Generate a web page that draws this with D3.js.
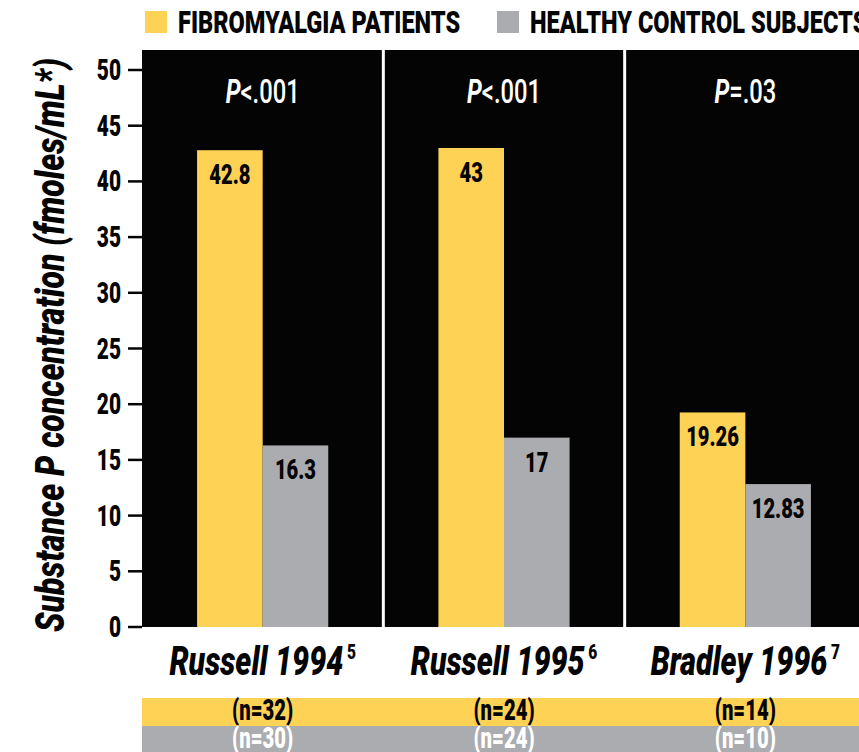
<!DOCTYPE html>
<html>
<head>
<meta charset="utf-8">
<script src="https://cdn.jsdelivr.net/npm/d3@7"></script>
<style>
  html, body { margin: 0; padding: 0; background: #fff; overflow: hidden; }
  svg { display: block; }
</style>
</head>
<body>
<svg id="chart"></svg>
<script>
// data
var studies = ['Russell 1994', 'Russell 1995', 'Bradley 1996'];
var refs = ['5', '6', '7'];
var pValues = [['<', '.001'], ['<', '.001'], ['=', '.03']];
var fibroValues = [42.8, 43, 19.26];
var controlValues = [16.3, 17, 12.83];
var fibroN = ['(n=32)', '(n=24)', '(n=14)'];
var controlN = ['(n=30)', '(n=24)', '(n=10)'];
var yTicks = [0, 5, 10, 15, 20, 25, 30, 35, 40, 45, 50];
var seriesKeys = ['fibro', 'control'];
var seriesLabels = ['FIBROMYALGIA PATIENTS', 'HEALTHY CONTROL SUBJECTS'];

var W = 859, H = 752;
var YELLOW = '#fed255', GRAY = '#abacb0', BLACK = '#040404';
var FONT = 'Roboto, "Liberation Sans", Arial, sans-serif';
var SX = 0.72; // squeeze to mimic condensed type

var svg = d3.select('#chart').attr('width', W).attr('height', H);

var plotLeft = 142, plotRight = 866, plotTop = 50, plotBottom = 627;

var x0 = d3.scaleBand().domain(studies).range([plotLeft, plotRight]).padding(0);
var x1 = d3.scaleBand().domain(seriesKeys).range([0, x0.bandwidth()])
  .paddingInner(0).paddingOuter(0.84);
var y = d3.scaleLinear().domain([0, 50]).range([plotBottom, 70]);
var color = d3.scaleOrdinal().domain(seriesKeys).range([YELLOW, GRAY]);

function ctext(parent, x, yy, size, opts) {
  opts = opts || {};
  return parent.append('text')
    .attr('transform', 'translate(' + x + ',' + yy + ')' + (opts.rotate ? ' rotate(' + opts.rotate + ')' : '') + ' scale(' + (opts.sx || SX) + ',' + (opts.sy || 1) + ')')
    .attr('text-anchor', opts.anchor || 'middle')
    .attr('font-family', FONT)
    .attr('font-weight', opts.weight || 900)
    .attr('font-style', opts.italic ? 'italic' : 'normal')
    .attr('font-size', size)
    .attr('fill', opts.fill || BLACK);
}

// panels
var groups = svg.selectAll('.study')
  .data(studies)
  .enter().append('g')
  .attr('class', 'study')
  .attr('transform', function(d) { return 'translate(' + x0(d) + ',0)'; });

groups.append('rect')
  .attr('x', 0).attr('y', plotTop)
  .attr('width', x0.bandwidth()).attr('height', plotBottom - plotTop)
  .attr('fill', BLACK);

groups.each(function(d, i) {
  var g = d3.select(this);
  var bars = [
    { key: 'fibro', value: fibroValues[i] },
    { key: 'control', value: controlValues[i] }
  ];
  g.selectAll('.bar').data(bars).enter().append('rect')
    .attr('class', 'bar')
    .attr('x', function(b) { return x1(b.key); })
    .attr('y', function(b) { return y(b.value); })
    .attr('width', x1.bandwidth())
    .attr('height', function(b) { return y(0) - y(b.value); })
    .attr('fill', function(b) { return color(b.key); });

  bars.forEach(function(b) {
    ctext(g, x1(b.key) + x1.bandwidth() / 2, y(b.value) + 34, 28).text(String(b.value));
  });

  // p value
  var t = ctext(g, x0.bandwidth() / 2, 103, 33, { fill: '#fff', weight: 500 });
  t.append('tspan').attr('font-style', 'italic').attr('font-weight', 700).text('P');
  t.append('tspan').text(pValues[i][0] + pValues[i][1]);
});

// white dividers
svg.selectAll('.divider')
  .data(studies.slice(1))
  .enter().append('line')
  .attr('x1', function(d) { return x0(d); })
  .attr('x2', function(d) { return x0(d); })
  .attr('y1', plotTop).attr('y2', plotBottom)
  .attr('stroke', '#fff').attr('stroke-width', 3);

// y axis
var yAxis = svg.append('g').attr('transform', 'translate(' + plotLeft + ',0)');
yAxis.selectAll('line').data(yTicks).enter().append('line')
  .attr('x1', -14).attr('x2', 0)
  .attr('y1', function(d) { return y(d); }).attr('y2', function(d) { return y(d); })
  .attr('stroke', BLACK).attr('stroke-width', 2.5);
yTicks.forEach(function(d) {
  ctext(yAxis, -21, y(d) + 10, 29, { anchor: 'end' }).text(d);
});

// y title
ctext(svg, 64, 345, 40, { italic: true, rotate: -90, sx: 0.8 })
  .text('Substance P concentration (fmoles/mL*)');

// category labels
studies.forEach(function(s, i) {
  var t = ctext(svg, x0(s) + x0.bandwidth() / 2, 675, 41, { italic: true, sx: 0.74 });
  t.append('tspan').text(s);
  t.append('tspan').attr('dy', -16).attr('dx', 5).attr('font-size', 21).attr('font-style', 'normal').text(refs[i]);
});

// n rows
svg.append('rect').attr('x', plotLeft).attr('y', 698).attr('width', W - plotLeft).attr('height', 28).attr('fill', YELLOW);
svg.append('rect').attr('x', plotLeft).attr('y', 726).attr('width', W - plotLeft).attr('height', 26).attr('fill', GRAY);
studies.forEach(function(s, i) {
  var cx = x0(s) + x0.bandwidth() / 2;
  ctext(svg, cx, 720, 26, { sy: 1.12, sx: 0.78 }).text(fibroN[i]);
  ctext(svg, cx, 748, 26, { sy: 1.12, sx: 0.78, fill: '#fff' }).text(controlN[i]);
});

// legend
var legendX = [145, 497];
seriesKeys.forEach(function(k, i) {
  svg.append('rect').attr('x', legendX[i]).attr('y', 11).attr('width', 22).attr('height', 22).attr('fill', color(k));
  ctext(svg, legendX[i] + 33, 33, 31, { anchor: 'start', sx: 0.76 }).text(seriesLabels[i]);
});
</script>
</body>
</html>
